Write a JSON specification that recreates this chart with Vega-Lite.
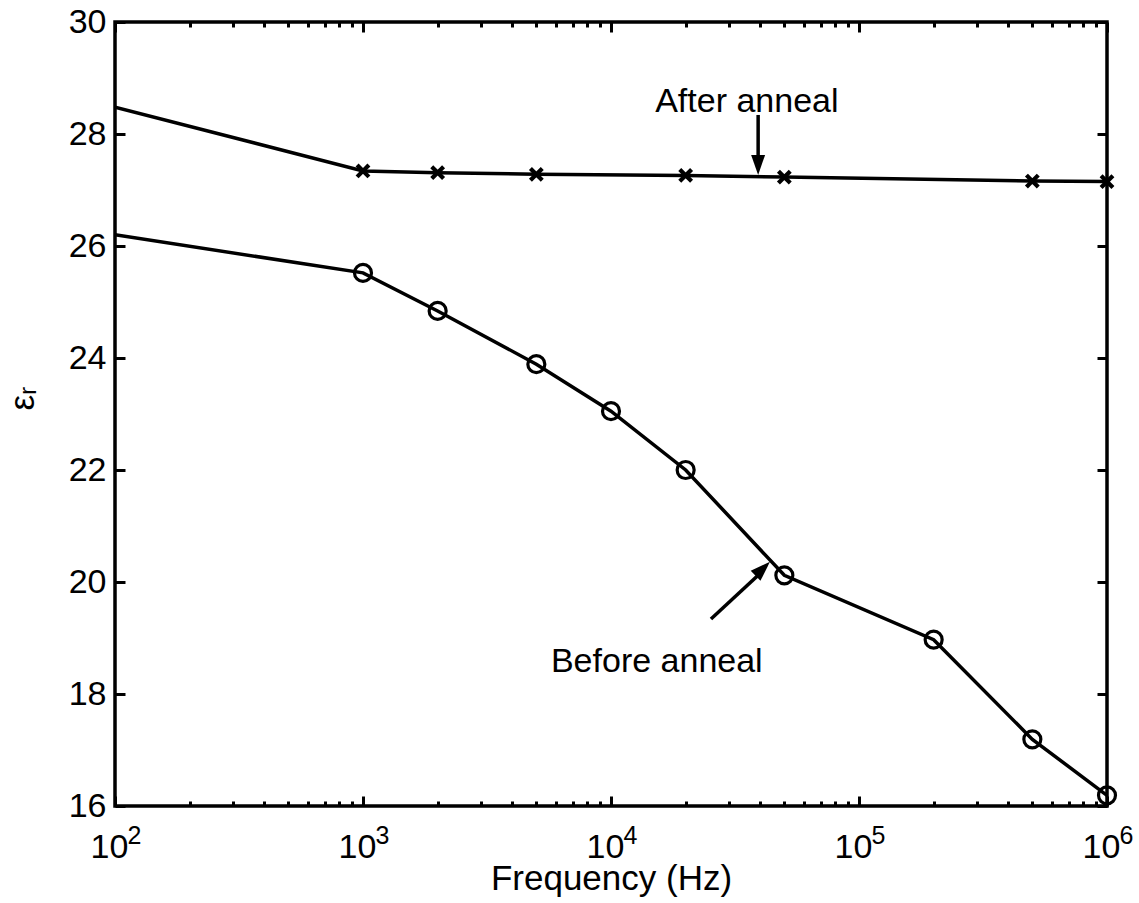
{
  "$schema": "https://vega.github.io/schema/vega-lite/v6.json",
  "autosize": "none",
  "width": 992,
  "height": 784,
  "padding": {"left": 115, "top": 22, "right": 32, "bottom": 97},
  "background": "white",
  "config": {
    "view": {"stroke": "black", "strokeWidth": 3.5},
    "font": "Liberation Sans",
    "axis": {"grid": false, "domain": false, "labelFont": "Liberation Sans", "titleFont": "Liberation Sans", "labelColor": "black", "titleColor": "black", "tickColor": "black", "labelFontSize": 34, "titleFontSize": 35, "titleFontWeight": "normal", "tickWidth": 3}
  },
  "datasets": {
    "curves": [
      {"series": "After", "f": 100, "eps": 28.48, "marker": false},
      {"series": "After", "f": 1000, "eps": 27.34, "marker": true},
      {"series": "After", "f": 2000, "eps": 27.31, "marker": true},
      {"series": "After", "f": 5000, "eps": 27.28, "marker": true},
      {"series": "After", "f": 20000, "eps": 27.26, "marker": true},
      {"series": "After", "f": 50000, "eps": 27.23, "marker": true},
      {"series": "After", "f": 500000, "eps": 27.16, "marker": true},
      {"series": "After", "f": 1000000, "eps": 27.15, "marker": true},
      {"series": "Before", "f": 100, "eps": 26.2, "marker": false},
      {"series": "Before", "f": 1000, "eps": 25.52, "marker": true},
      {"series": "Before", "f": 2000, "eps": 24.84, "marker": true},
      {"series": "Before", "f": 5000, "eps": 23.89, "marker": true},
      {"series": "Before", "f": 10000, "eps": 23.05, "marker": true},
      {"series": "Before", "f": 20000, "eps": 22.0, "marker": true},
      {"series": "Before", "f": 50000, "eps": 20.12, "marker": true},
      {"series": "Before", "f": 200000, "eps": 18.97, "marker": true},
      {"series": "Before", "f": 500000, "eps": 17.19, "marker": true},
      {"series": "Before", "f": 1000000, "eps": 16.19, "marker": true}
    ],
    "labels": [
      {"label": "After anneal", "f": 35300, "eps": 28.4},
      {"label": "Before anneal", "f": 15300, "eps": 18.39}
    ],
    "arrows": [
      {"name": "After", "f": 39200, "eps": 28.34, "f2": 39200, "eps2": 27.4, "angle": 180, "tipf": 39200, "tipeps": 27.27},
      {"name": "Before", "f": 25300, "eps": 19.34, "f2": 41000, "eps2": 20.2, "angle": 46, "tipf": 43750, "tipeps": 20.36}
    ]
  },
  "layer": [
    {
      "data": {"name": "curves"},
      "mark": {"type": "line", "color": "black", "strokeWidth": 3.5, "clip": true},
      "encoding": {
        "x": {"field": "f", "type": "quantitative", "scale": {"type": "log", "domain": [100, 1000000], "nice": false},
          "axis": {"orient": "bottom", "title": "Frequency (Hz)", "titleY": 83, "titleBaseline": "alphabetic",
            "values": [100,200,300,400,500,600,700,800,900,1000,2000,3000,4000,5000,6000,7000,8000,9000,10000,20000,30000,40000,50000,60000,70000,80000,90000,100000,200000,300000,400000,500000,600000,700000,800000,900000,1000000],
            "labelExpr": "abs(log(datum.value)/LN10 - round(log(datum.value)/LN10)) < 0.001 ? '10' : ''",
            "tickSize": {"expr": "abs(log(datum.value)/LN10 - round(log(datum.value)/LN10)) < 0.001 ? -10 : -5"},
            "labelBaseline": "alphabetic", "labelPadding": 61, "labelOffset": -6, "labelOverlap": false, "labelFlush": false}},
        "y": {"field": "eps", "type": "quantitative", "scale": {"domain": [16, 30], "nice": false, "zero": false},
          "axis": {"orient": "left", "title": "εᵣ", "values": [16,18,20,22,24,26,28,30], "tickSize": -10, "labelPadding": 19, "titlePadding": 28, "titleY": 376, "labelFlush": false}},
        "detail": {"field": "series"}
      }
    },
    {
      "data": {"name": "curves"},
      "transform": [{"filter": "datum.marker"}],
      "mark": {"type": "point", "filled": false, "stroke": "black", "opacity": 1, "clip": false},
      "encoding": {
        "x": {"field": "f", "type": "quantitative",
          "axis": {"orient": "bottom", "title": null, "ticks": false, "domain": false,
            "values": [100, 1000, 10000, 100000, 1000000],
            "labelExpr": "format(round(log(datum.value)/LN10), 'd')",
            "labelFontSize": 25, "labelBaseline": "alphabetic", "labelPadding": 37, "labelOffset": 19, "labelOverlap": false, "labelFlush": false}},
        "y": {"field": "eps", "type": "quantitative",
          "axis": {"orient": "right", "title": null, "labels": false, "tickSize": -10, "values": [16,18,20,22,24,26,28,30]}},
        "shape": {"field": "series", "type": "nominal", "scale": {"domain": ["After", "Before"], "range": ["M-1,-1L1,1M-1,1L1,-1", "circle"]}, "legend": null},
        "size": {"field": "series", "type": "nominal", "scale": {"domain": ["After", "Before"], "range": [140, 289]}, "legend": null},
        "strokeWidth": {"field": "series", "type": "nominal", "scale": {"domain": ["After", "Before"], "range": [4.2, 3.2]}, "legend": null}
      }
    },
    {
      "data": {"name": "labels"},
      "mark": {"type": "text", "font": "Liberation Sans", "fontSize": 34, "color": "black", "align": "center", "baseline": "alphabetic"},
      "encoding": {
        "x": {"field": "f", "type": "quantitative",
          "axis": {"orient": "top", "title": null, "labels": false,
            "values": [100,200,300,400,500,600,700,800,900,1000,2000,3000,4000,5000,6000,7000,8000,9000,10000,20000,30000,40000,50000,60000,70000,80000,90000,100000,200000,300000,400000,500000,600000,700000,800000,900000,1000000],
            "tickSize": {"expr": "abs(log(datum.value)/LN10 - round(log(datum.value)/LN10)) < 0.001 ? -10 : -5"}}},
        "y": {"field": "eps", "type": "quantitative", "axis": null},
        "text": {"field": "label"}
      }
    },
    {
      "data": {"name": "arrows"},
      "mark": {"type": "rule", "color": "black", "strokeWidth": 3.5},
      "encoding": {
        "x": {"field": "f", "type": "quantitative", "axis": null},
        "y": {"field": "eps", "type": "quantitative", "axis": null},
        "x2": {"field": "f2"},
        "y2": {"field": "eps2"}
      }
    },
    {
      "data": {"name": "arrows"},
      "mark": {"type": "point", "shape": "M0,0L-0.7,2L0.7,2Z", "filled": true, "color": "black", "opacity": 1, "size": 400},
      "encoding": {
        "x": {"field": "tipf", "type": "quantitative", "axis": null},
        "y": {"field": "tipeps", "type": "quantitative", "axis": null},
        "angle": {"field": "angle", "type": "quantitative", "scale": null}
      }
    }
  ],
  "resolve": {"axis": {"x": "independent", "y": "independent"}}
}
